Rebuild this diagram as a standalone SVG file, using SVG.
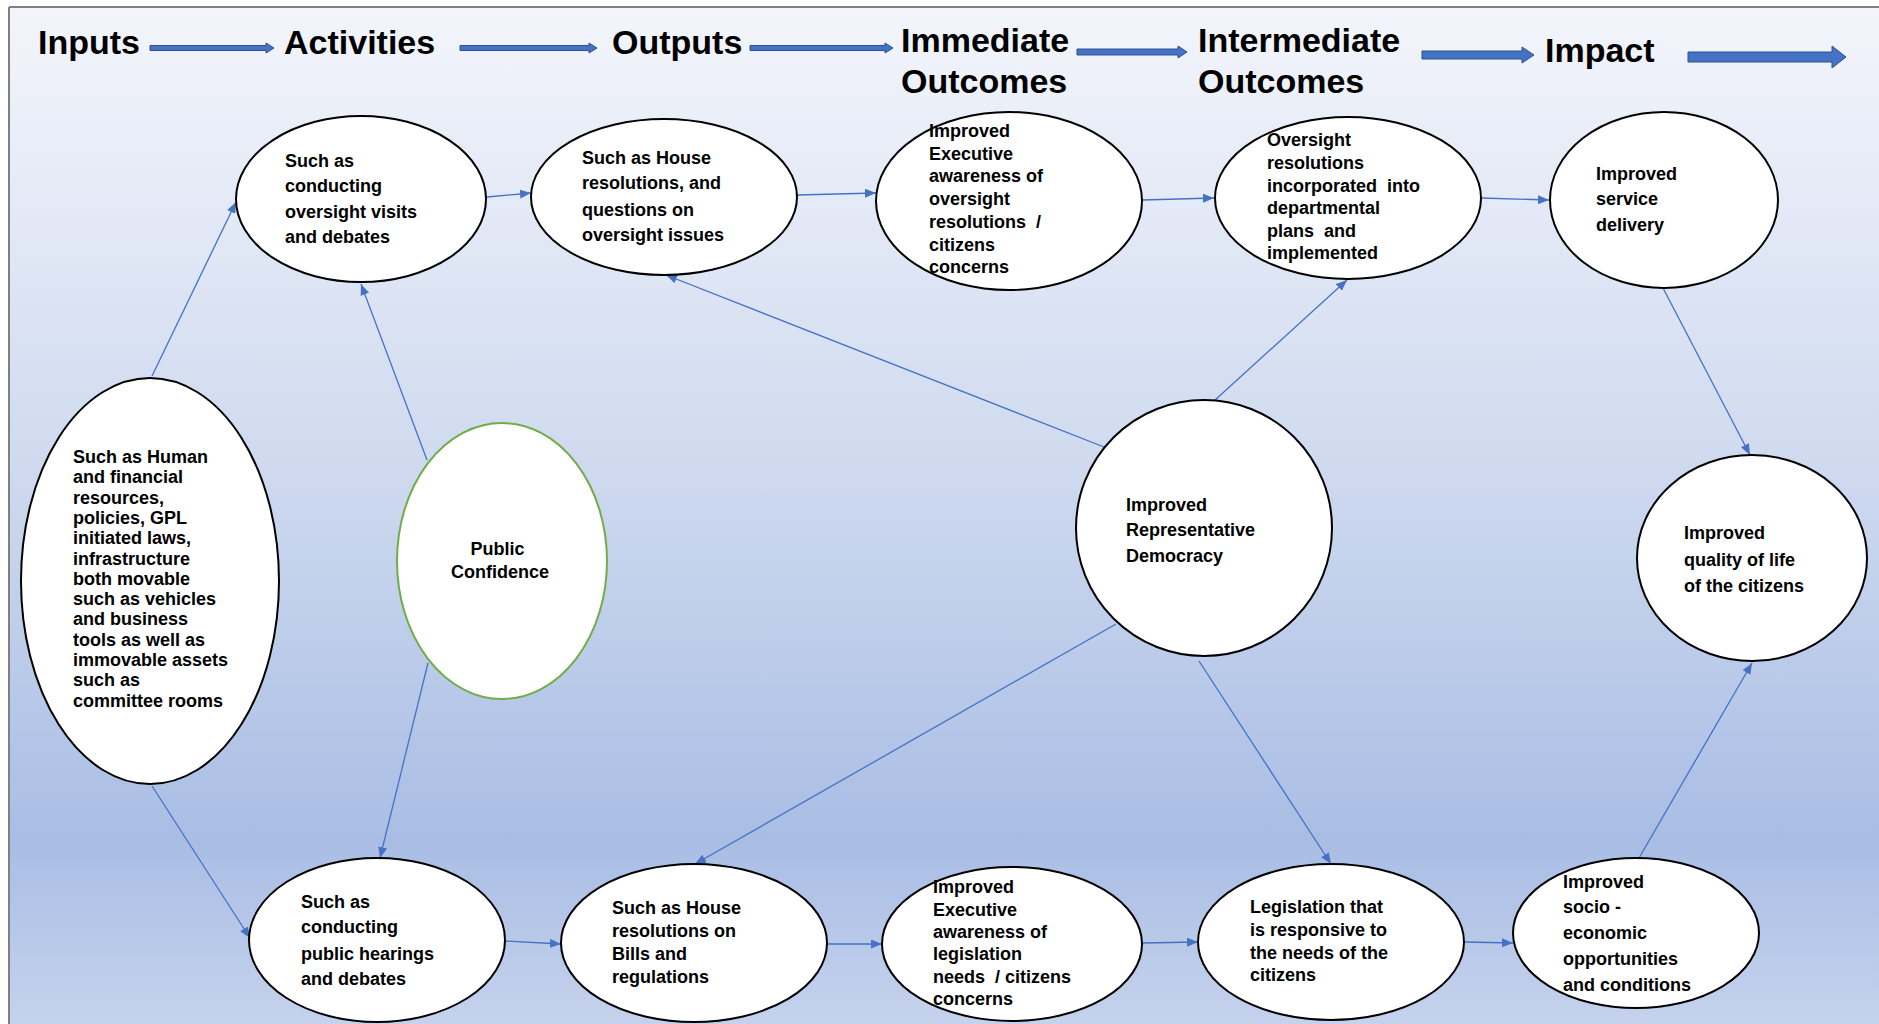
<svg xmlns="http://www.w3.org/2000/svg" width="1879" height="1024" viewBox="0 0 1879 1024">
  <defs>
    <linearGradient id="bg" x1="0" y1="0" x2="0" y2="1">
      <stop offset="0" stop-color="#f3f5fb"/>
      <stop offset="0.45" stop-color="#cfdaef"/>
      <stop offset="0.82" stop-color="#a9bde4"/>
      <stop offset="1" stop-color="#c5d2ed"/>
    </linearGradient>
    <marker id="tip" markerUnits="userSpaceOnUse" markerWidth="12" markerHeight="10" refX="11" refY="4.5" orient="auto">
      <path d="M0,0 L11,4.5 L0,9 z" fill="#4472c4"/>
    </marker>
    <style>
      .hdr { font-family: "Liberation Sans", Arial, sans-serif; font-weight: bold; font-size: 34px; fill: #000; }
      .lbl { font-family: "Liberation Sans", Arial, sans-serif; font-weight: bold; font-size: 18px; fill: #000; }
      .node { fill: #ffffff; stroke: #000000; stroke-width: 2; }
      .green { fill: #ffffff; stroke: #70ad47; stroke-width: 2; }
      .flow { fill: #4472c4; stroke: #2f528f; stroke-width: 1; }
      .link { stroke: #4472c4; stroke-width: 1.3; fill: none; marker-end: url(#tip); }
    </style>
  </defs>

  <!-- page background and frame -->
  <rect x="0" y="0" width="1879" height="1024" fill="#ffffff"/>
  <rect x="9" y="8" width="1870" height="1016" fill="url(#bg)"/>
  <line x1="9" y1="7" x2="1879" y2="7" stroke="#808080" stroke-width="2"/>
  <line x1="9" y1="7" x2="9" y2="1024" stroke="#808080" stroke-width="2"/>

  <!-- column headings -->
  <g id="headings">
    <text class="hdr" x="38" y="54">Inputs</text>
    <text class="hdr" x="284" y="54">Activities</text>
    <text class="hdr" x="612" y="54">Outputs</text>
    <text class="hdr" x="901" y="52">Immediate</text>
    <text class="hdr" x="901" y="93">Outcomes</text>
    <text class="hdr" x="1198" y="52">Intermediate</text>
    <text class="hdr" x="1198" y="93">Outcomes</text>
    <text class="hdr" x="1545" y="62">Impact</text>
  </g>

  <!-- heading flow arrows -->
  <g id="heading-arrows">
    <polygon class="flow" points="150,45.5 266,45.5 266,43 274,48 266,53 266,50.5 150,50.5"/>
    <polygon class="flow" points="460,45.5 589,45.5 589,43 597,48 589,53 589,50.5 460,50.5"/>
    <polygon class="flow" points="750,45.5 885,45.5 885,43 893,48 885,53 885,50.5 750,50.5"/>
    <polygon class="flow" points="1077,49 1178,49 1178,46 1187,52 1178,58 1178,55 1077,55"/>
    <polygon class="flow" points="1422,51 1522,51 1522,47 1534,55 1522,63 1522,59 1422,59"/>
    <polygon class="flow" points="1688,52 1832,52 1832,46 1846,57 1832,68 1832,62 1688,62"/>
  </g>

  <!-- connectors -->
  <g id="connectors">
    <line class="link" x1="152" y1="376" x2="236" y2="202"/>
    <line class="link" x1="152" y1="786" x2="250" y2="938"/>
    <line class="link" x1="427" y1="460" x2="361" y2="284"/>
    <line class="link" x1="428" y1="663" x2="380" y2="858"/>
    <line class="link" x1="487" y1="197" x2="531" y2="193"/>
    <line class="link" x1="797" y1="195" x2="876" y2="193"/>
    <line class="link" x1="1142" y1="200" x2="1214" y2="198"/>
    <line class="link" x1="1481" y1="198" x2="1549" y2="200"/>
    <line class="link" x1="1663" y1="288" x2="1750" y2="455"/>
    <line class="link" x1="1639" y1="858" x2="1752" y2="663"/>
    <line class="link" x1="1104" y1="447" x2="666" y2="275"/>
    <line class="link" x1="1214" y1="401" x2="1347" y2="280"/>
    <line class="link" x1="1116" y1="624" x2="695" y2="864"/>
    <line class="link" x1="1199" y1="661" x2="1331" y2="864"/>
    <line class="link" x1="504" y1="941" x2="561" y2="944"/>
    <line class="link" x1="827" y1="944" x2="882" y2="944"/>
    <line class="link" x1="1142" y1="943" x2="1198" y2="942"/>
    <line class="link" x1="1464" y1="942" x2="1513" y2="943"/>
  </g>

  <!-- inputs -->
  <g id="inputs">
    <ellipse class="node" cx="150" cy="581" rx="129" ry="203"/>
    <text class="lbl">
      <tspan x="73" y="463">Such as Human</tspan>
      <tspan x="73" y="483.3">and financial</tspan>
      <tspan x="73" y="503.6">resources,</tspan>
      <tspan x="73" y="523.9">policies, GPL</tspan>
      <tspan x="73" y="544.2">initiated laws,</tspan>
      <tspan x="73" y="564.5">infrastructure</tspan>
      <tspan x="73" y="584.8">both movable</tspan>
      <tspan x="73" y="605.1">such as vehicles</tspan>
      <tspan x="73" y="625.4">and business</tspan>
      <tspan x="73" y="645.7">tools as well as</tspan>
      <tspan x="73" y="666">immovable assets</tspan>
      <tspan x="73" y="686.3">such as</tspan>
      <tspan x="73" y="706.6">committee rooms</tspan>
    </text>
  </g>

  <!-- activities -->
  <g id="activity-oversight">
    <ellipse class="node" cx="361" cy="199" rx="125" ry="83"/>
    <text class="lbl">
      <tspan x="285" y="167">Such as</tspan>
      <tspan x="285" y="192">conducting</tspan>
      <tspan x="285" y="218">oversight visits</tspan>
      <tspan x="285" y="243">and debates</tspan>
    </text>
  </g>
  <g id="activity-hearings">
    <ellipse class="node" cx="377" cy="940" rx="128" ry="82"/>
    <text class="lbl">
      <tspan x="301" y="908">Such as</tspan>
      <tspan x="301" y="933">conducting</tspan>
      <tspan x="301" y="960">public hearings</tspan>
      <tspan x="301" y="985">and debates</tspan>
    </text>
  </g>
  <g id="public-confidence">
    <ellipse class="green" cx="502" cy="561" rx="105" ry="138"/>
    <text class="lbl" text-anchor="middle">
      <tspan x="500" y="555">Public</tspan>
      <tspan x="500" y="578">Confidence</tspan>
    </text>
  </g>

  <!-- outputs -->
  <g id="output-oversight">
    <ellipse class="node" cx="664" cy="197" rx="133" ry="78"/>
    <text class="lbl">
      <tspan x="582" y="164">Such as House</tspan>
      <tspan x="582" y="189">resolutions, and</tspan>
      <tspan x="582" y="216">questions on</tspan>
      <tspan x="582" y="241">oversight issues</tspan>
    </text>
  </g>
  <g id="output-bills">
    <ellipse class="node" cx="694" cy="943" rx="133" ry="79"/>
    <text class="lbl">
      <tspan x="612" y="914">Such as House</tspan>
      <tspan x="612" y="937">resolutions on</tspan>
      <tspan x="612" y="960">Bills and</tspan>
      <tspan x="612" y="983">regulations</tspan>
    </text>
  </g>

  <!-- immediate outcomes -->
  <g id="immediate-oversight">
    <ellipse class="node" cx="1009" cy="201" rx="133" ry="89"/>
    <text class="lbl">
      <tspan x="929" y="137">Improved</tspan>
      <tspan x="929" y="160">Executive</tspan>
      <tspan x="929" y="182">awareness of</tspan>
      <tspan x="929" y="205">oversight</tspan>
      <tspan x="929" y="228" xml:space="preserve">resolutions  /</tspan>
      <tspan x="929" y="251">citizens</tspan>
      <tspan x="929" y="273">concerns</tspan>
    </text>
  </g>
  <g id="immediate-legislation">
    <ellipse class="node" cx="1012" cy="944" rx="130" ry="77"/>
    <text class="lbl">
      <tspan x="933" y="893">Improved</tspan>
      <tspan x="933" y="916">Executive</tspan>
      <tspan x="933" y="938">awareness of</tspan>
      <tspan x="933" y="960">legislation</tspan>
      <tspan x="933" y="983" xml:space="preserve">needs  / citizens</tspan>
      <tspan x="933" y="1005">concerns</tspan>
    </text>
  </g>

  <!-- intermediate outcomes -->
  <g id="intermediate-plans">
    <ellipse class="node" cx="1348" cy="198" rx="133" ry="81"/>
    <text class="lbl">
      <tspan x="1267" y="146">Oversight</tspan>
      <tspan x="1267" y="169">resolutions</tspan>
      <tspan x="1267" y="192" xml:space="preserve">incorporated  into</tspan>
      <tspan x="1267" y="214">departmental</tspan>
      <tspan x="1267" y="237" xml:space="preserve">plans  and</tspan>
      <tspan x="1267" y="259">implemented</tspan>
    </text>
  </g>
  <g id="representative-democracy">
    <ellipse class="node" cx="1204" cy="528" rx="128" ry="128"/>
    <text class="lbl">
      <tspan x="1126" y="511">Improved</tspan>
      <tspan x="1126" y="536">Representative</tspan>
      <tspan x="1126" y="562">Democracy</tspan>
    </text>
  </g>
  <g id="intermediate-legislation">
    <ellipse class="node" cx="1331" cy="942" rx="133" ry="78"/>
    <text class="lbl">
      <tspan x="1250" y="913">Legislation that</tspan>
      <tspan x="1250" y="936">is responsive to</tspan>
      <tspan x="1250" y="959">the needs of the</tspan>
      <tspan x="1250" y="981">citizens</tspan>
    </text>
  </g>

  <!-- impact -->
  <g id="impact-service">
    <ellipse class="node" cx="1664" cy="200" rx="114" ry="88"/>
    <text class="lbl">
      <tspan x="1596" y="180">Improved</tspan>
      <tspan x="1596" y="205">service</tspan>
      <tspan x="1596" y="231">delivery</tspan>
    </text>
  </g>
  <g id="impact-quality">
    <ellipse class="node" cx="1752" cy="558" rx="115" ry="103"/>
    <text class="lbl">
      <tspan x="1684" y="539">Improved</tspan>
      <tspan x="1684" y="566">quality of life</tspan>
      <tspan x="1684" y="592">of the citizens</tspan>
    </text>
  </g>
  <g id="impact-socio">
    <ellipse class="node" cx="1636" cy="933" rx="123" ry="75"/>
    <text class="lbl">
      <tspan x="1563" y="888">Improved</tspan>
      <tspan x="1563" y="913">socio -</tspan>
      <tspan x="1563" y="939">economic</tspan>
      <tspan x="1563" y="965">opportunities</tspan>
      <tspan x="1563" y="991">and conditions</tspan>
    </text>
  </g>
</svg>
